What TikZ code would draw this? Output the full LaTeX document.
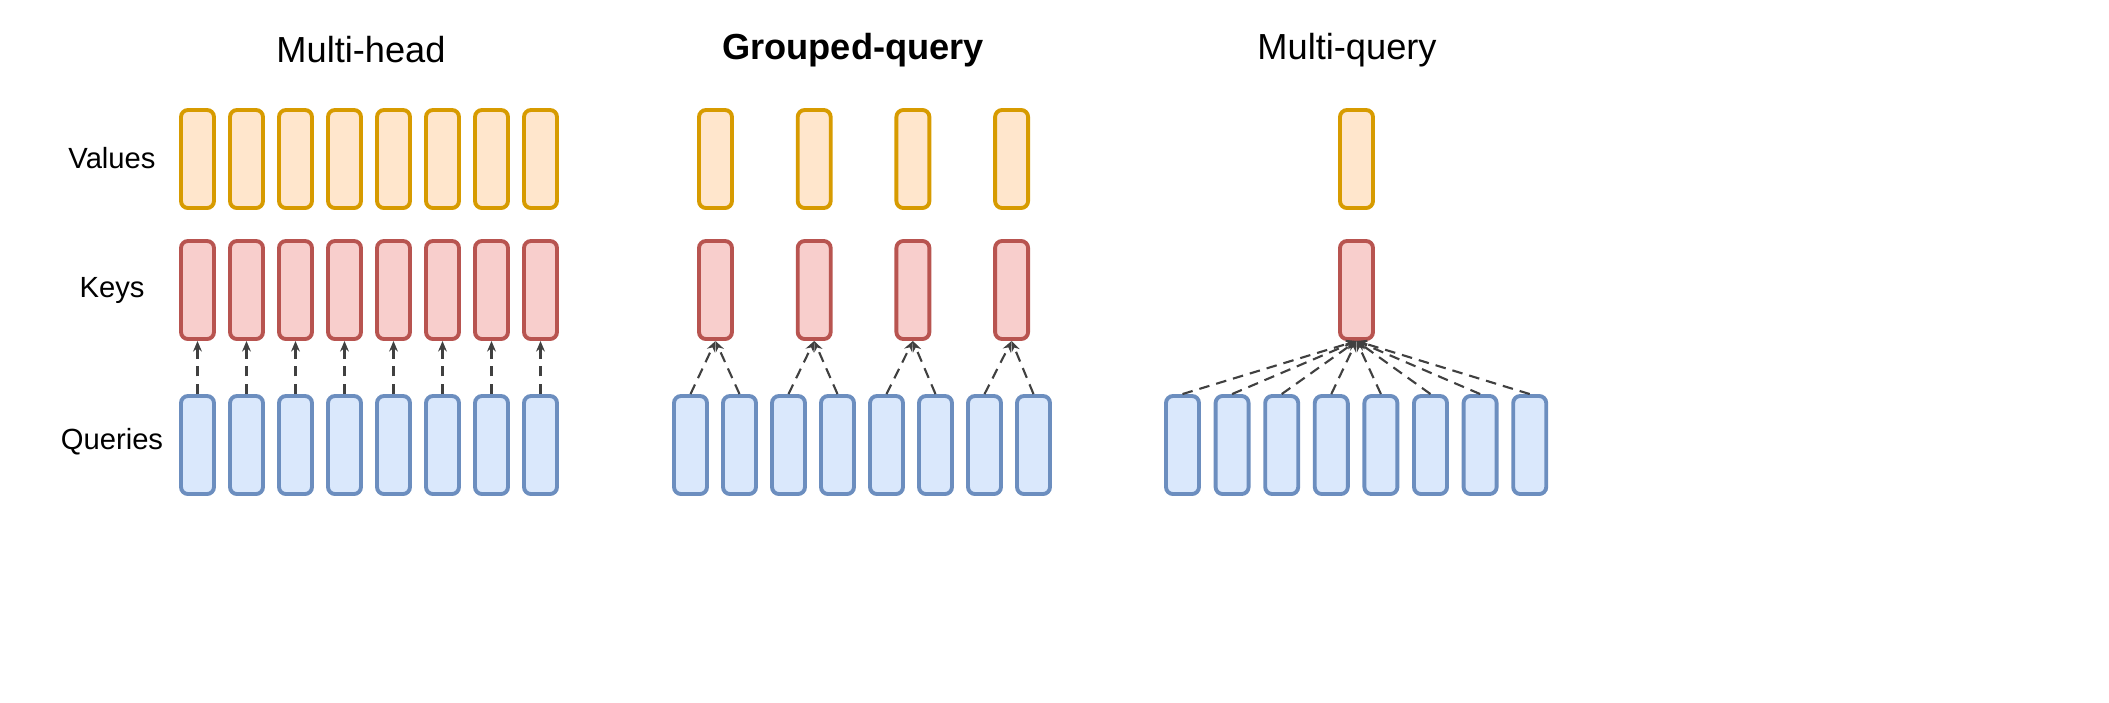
\documentclass[tikz,border=0pt]{standalone}
\usepackage{fontspec}
\setmainfont{Liberation Sans}
\usetikzlibrary{arrows.meta}
\definecolor{vO}{HTML}{D79B00}\definecolor{vF}{HTML}{FFE6CC}
\definecolor{kO}{HTML}{B85450}\definecolor{kF}{HTML}{F8CECC}
\definecolor{qO}{HTML}{6C8EBF}\definecolor{qF}{HTML}{DAE8FC}
\begin{document}
\begin{tikzpicture}[x=0.01cm,y=-0.01cm,
 box/.style={draw,line width=1.1pt,rounded corners=2pt,minimum width=0.33cm,minimum height=0.98cm,inner sep=0pt},
 val/.style={box,draw=vO,fill=vF},
 key/.style={box,draw=kO,fill=kF},
 qry/.style={box,draw=qO,fill=qF},
 con/.style={draw=black!75,dashed,line width=0.6pt,dash pattern=on 3pt off 2pt,-{Stealth[length=3pt,width=2.5pt]}},
 ttl/.style={font=\fontsize{10.3}{12}\selectfont},
 lbl/.style={font=\fontsize{8.3}{10}\selectfont}]
\useasboundingbox (0,0) rectangle (2109,702);
\node[ttl] (t1) at (361,50) {Multi-head};
\node[ttl,font=\fontsize{10.3}{12}\selectfont\bfseries] (t2) at (853,50) {Grouped-query};
\node[ttl] (t3) at (1347,50) {Multi-query};
\node[lbl] (lv) at (112,158) {Values};
\node[lbl] (lk) at (112,290) {Keys};
\node[lbl] (lq) at (112,442) {Queries};
% multi-head
\foreach \i in {0,...,7}{
 \pgfmathsetmacro\x{197.5+49*\i}
 \node[val] (mv\i) at (\x,159) {};
 \node[key] (mk\i) at (\x,290) {};
 \node[qry] (mq\i) at (\x,445) {};
 \draw[con] (mq\i.north) -- (mk\i.south);
}
% grouped
\foreach \g in {0,...,3}{
 \pgfmathsetmacro\x{715.5+98.7*\g}
 \node[val] (gv\g) at (\x,159) {};
 \node[key] (gk\g) at (\x,290) {};
}
\foreach \i in {0,...,7}{
 \pgfmathsetmacro\x{690.5+49*\i}
 \node[qry] (gq\i) at (\x,445) {};
 \pgfmathtruncatemacro\g{int(\i/2)}
 \draw[con] (gq\i.north) -- (gk\g.south);
}
% multi-query
\node[val] (qv) at (1356.5,159) {};
\node[key] (qk) at (1356.5,290) {};
\foreach \i in {0,...,7}{
 \pgfmathsetmacro\x{1182.5+49.6*\i}
 \node[qry] (qq\i) at (\x,445) {};
 \draw[con] (qq\i.north) -- (qk.south);
}
\end{tikzpicture}
\end{document}
